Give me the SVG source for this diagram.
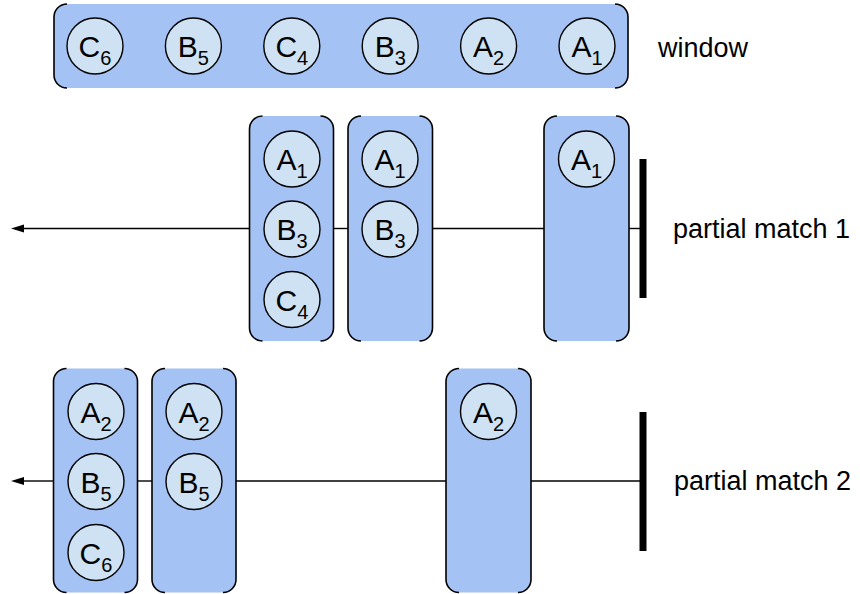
<svg xmlns="http://www.w3.org/2000/svg" width="860" height="594" viewBox="0 0 860 594">
  <style>
    .box { fill: #a4c2f4; stroke: none; }
    .side { fill: none; stroke: #000; stroke-width: 1.6; }
    .ev circle { fill: #cfe2f3; stroke: #000; stroke-width: 1.4; }
    .ev text { font-family: "Liberation Sans", Arial, sans-serif; font-size: 30px; fill: #000; text-anchor: middle; }
    .ev .sub { font-size: 20px; }
    .lbl { font-family: "Liberation Sans", Arial, sans-serif; font-size: 27px; fill: #000; }
    .wire { fill: none; stroke: #000; stroke-width: 1.4; }
    .bar { fill: #000; }
  </style>
  <defs>
    <!-- arrowhead placed beyond the end of the line -->
    <marker id="arrow" markerWidth="13" markerHeight="8" refX="0" refY="4" orient="auto" markerUnits="userSpaceOnUse" overflow="visible">
      <path d="M0,0 L13,4 L0,8 Z" fill="#000"/>
    </marker>
  </defs>

  <!-- connectors -->
  <g id="connectors">
    <path class="wire" d="M249,228.5 H24" marker-end="url(#arrow)"/>
    <path class="wire" d="M333,228.5 H348"/>
    <path class="wire" d="M433,228.5 H544"/>
    <path class="wire" d="M629,228.5 H640"/>
    <rect class="bar" x="639.5" y="159" width="7" height="139"/>

    <path class="wire" d="M53,481 H24" marker-end="url(#arrow)"/>
    <path class="wire" d="M138,481 H152"/>
    <path class="wire" d="M236,481 H446"/>
    <path class="wire" d="M531,481 H640"/>
    <rect class="bar" x="639.5" y="412" width="7" height="139"/>
  </g>

  <!-- window -->
  <g id="window">
    <rect class="box" x="54" y="4" width="574" height="84" rx="13"/>
    <path class="side" d="M67,4 A13,13 0 0 0 54,17 V75 A13,13 0 0 0 67,88"/>
    <path class="side" d="M615,4 A13,13 0 0 1 628,17 V75 A13,13 0 0 1 615,88"/>
    <g class="ev"><circle cx="95" cy="46" r="28"/><text x="95" y="57">C<tspan class="sub" dy="8">6</tspan></text></g>
    <g class="ev"><circle cx="193.4" cy="46" r="28"/><text x="193.4" y="57">B<tspan class="sub" dy="8">5</tspan></text></g>
    <g class="ev"><circle cx="291.8" cy="46" r="28"/><text x="291.8" y="57">C<tspan class="sub" dy="8">4</tspan></text></g>
    <g class="ev"><circle cx="390.2" cy="46" r="28"/><text x="390.2" y="57">B<tspan class="sub" dy="8">3</tspan></text></g>
    <g class="ev"><circle cx="488.6" cy="46" r="28"/><text x="488.6" y="57">A<tspan class="sub" dy="8">2</tspan></text></g>
    <g class="ev"><circle cx="587" cy="46" r="28"/><text x="587" y="57">A<tspan class="sub" dy="8">1</tspan></text></g>
    <text class="lbl" x="658" y="57">window</text>
  </g>

  <!-- partial match 1 -->
  <g id="pm1-col1">
    <rect class="box" x="249.5" y="116" width="84" height="225" rx="13"/>
    <path class="side" d="M262.5,116 A13,13 0 0 0 249.5,129 V328 A13,13 0 0 0 262.5,341"/>
    <path class="side" d="M320.5,116 A13,13 0 0 1 333.5,129 V328 A13,13 0 0 1 320.5,341"/>
    <g class="ev"><circle cx="292" cy="159" r="28"/><text x="292" y="170">A<tspan class="sub" dy="8">1</tspan></text></g>
    <g class="ev"><circle cx="292" cy="229" r="28"/><text x="292" y="240">B<tspan class="sub" dy="8">3</tspan></text></g>
    <g class="ev"><circle cx="292" cy="299.5" r="28"/><text x="292" y="310.5">C<tspan class="sub" dy="8">4</tspan></text></g>
  </g>
  <g id="pm1-col2">
    <rect class="box" x="348" y="116" width="84.5" height="225" rx="13"/>
    <path class="side" d="M361,116 A13,13 0 0 0 348,129 V328 A13,13 0 0 0 361,341"/>
    <path class="side" d="M419.5,116 A13,13 0 0 1 432.5,129 V328 A13,13 0 0 1 419.5,341"/>
    <g class="ev"><circle cx="390" cy="159" r="28"/><text x="390" y="170">A<tspan class="sub" dy="8">1</tspan></text></g>
    <g class="ev"><circle cx="390" cy="229" r="28"/><text x="390" y="240">B<tspan class="sub" dy="8">3</tspan></text></g>
  </g>
  <g id="pm1-col3">
    <rect class="box" x="544" y="116" width="85" height="225" rx="13"/>
    <path class="side" d="M557,116 A13,13 0 0 0 544,129 V328 A13,13 0 0 0 557,341"/>
    <path class="side" d="M616,116 A13,13 0 0 1 629,129 V328 A13,13 0 0 1 616,341"/>
    <g class="ev"><circle cx="586.5" cy="159" r="28"/><text x="586.5" y="170">A<tspan class="sub" dy="8">1</tspan></text></g>
  </g>
  <text id="pm1-label" class="lbl" x="673" y="238">partial match 1</text>

  <!-- partial match 2 -->
  <g id="pm2-col1">
    <rect class="box" x="53.5" y="368.5" width="84" height="224" rx="13"/>
    <path class="side" d="M66.5,368.5 A13,13 0 0 0 53.5,381.5 V579.5 A13,13 0 0 0 66.5,592.5"/>
    <path class="side" d="M124.5,368.5 A13,13 0 0 1 137.5,381.5 V579.5 A13,13 0 0 1 124.5,592.5"/>
    <g class="ev"><circle cx="96" cy="411.5" r="28"/><text x="96" y="422.5">A<tspan class="sub" dy="8">2</tspan></text></g>
    <g class="ev"><circle cx="96" cy="481.5" r="28"/><text x="96" y="492.5">B<tspan class="sub" dy="8">5</tspan></text></g>
    <g class="ev"><circle cx="96" cy="552.5" r="28"/><text x="96" y="563.5">C<tspan class="sub" dy="8">6</tspan></text></g>
  </g>
  <g id="pm2-col2">
    <rect class="box" x="152" y="368.5" width="84" height="224" rx="13"/>
    <path class="side" d="M165,368.5 A13,13 0 0 0 152,381.5 V579.5 A13,13 0 0 0 165,592.5"/>
    <path class="side" d="M223,368.5 A13,13 0 0 1 236,381.5 V579.5 A13,13 0 0 1 223,592.5"/>
    <g class="ev"><circle cx="194" cy="411.5" r="28"/><text x="194" y="422.5">A<tspan class="sub" dy="8">2</tspan></text></g>
    <g class="ev"><circle cx="194" cy="481.5" r="28"/><text x="194" y="492.5">B<tspan class="sub" dy="8">5</tspan></text></g>
  </g>
  <g id="pm2-col3">
    <rect class="box" x="446" y="368.5" width="85" height="224" rx="13"/>
    <path class="side" d="M459,368.5 A13,13 0 0 0 446,381.5 V579.5 A13,13 0 0 0 459,592.5"/>
    <path class="side" d="M518,368.5 A13,13 0 0 1 531,381.5 V579.5 A13,13 0 0 1 518,592.5"/>
    <g class="ev"><circle cx="488.5" cy="411.5" r="28"/><text x="488.5" y="422.5">A<tspan class="sub" dy="8">2</tspan></text></g>
  </g>
  <text id="pm2-label" class="lbl" x="674" y="490">partial match 2</text>
</svg>
